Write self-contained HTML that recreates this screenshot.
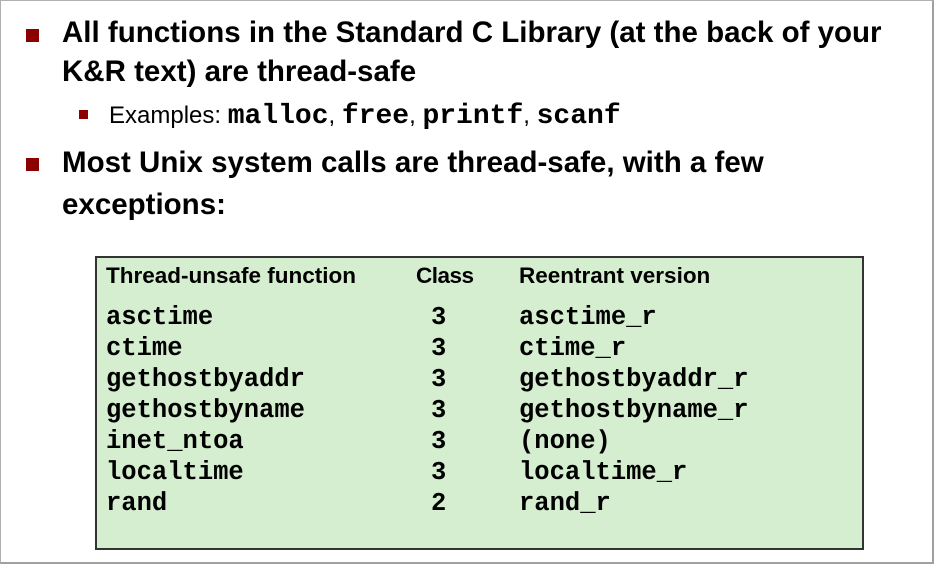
<!DOCTYPE html>
<html><head><meta charset="utf-8"><style>
body{margin:0;width:934px;height:564px;background:#fff;position:relative;overflow:hidden;font-family:"Liberation Sans",sans-serif;}
.frame{position:absolute;left:0;top:0;width:931px;height:561px;border:1px solid #b0b0b0;border-right:2px solid #a0a0a0;border-bottom:2px solid #a0a0a0;}
.t{position:absolute;white-space:nowrap;}
.b1{font-weight:bold;font-size:29.5px;color:#000;line-height:34px;}
.sq{position:absolute;background:#8b0000;}
.mono{font-family:"Liberation Mono",monospace;font-weight:bold;}
.box{position:absolute;left:95px;top:256px;width:765px;height:290px;background:#d5eed0;border:2px solid #333;}
.h{font-weight:bold;font-size:22.5px;line-height:26px;}
.r{font-family:"Liberation Mono",monospace;font-weight:bold;font-size:25.5px;}
</style></head><body>
<div class="frame"></div>
<div class="sq" style="left:26px;top:29px;width:13px;height:13px"></div>
<div class="t b1" style="left:62px;top:16px">All functions in the Standard C Library (at the back of your</div>
<div class="t b1" style="left:62px;top:55px">K&amp;R text) are thread-safe</div>
<div class="sq" style="left:79px;top:110px;width:9px;height:9px"></div>
<div class="t" style="left:109px;top:102px;font-size:24px;line-height:28px">Examples: <span class="mono" style="font-size:28px">malloc</span>, <span class="mono" style="font-size:28px">free</span>, <span class="mono" style="font-size:28px">printf</span>, <span class="mono" style="font-size:28px">scanf</span></div>
<div class="sq" style="left:26px;top:158px;width:13px;height:13px"></div>
<div class="t b1" style="left:62px;top:146px">Most Unix system calls are thread-safe, with a few</div>
<div class="t b1" style="left:62px;top:188px">exceptions:</div>
<div class="box"></div>
<div class="t h" style="left:106px;top:263px">Thread-unsafe function</div>
<div class="t h" style="left:416px;top:263px;letter-spacing:-0.5px">Class</div>
<div class="t h" style="left:519px;top:263px">Reentrant version</div>
<div class="t r" style="left:106px;top:302px;line-height:31px">asctime<br>ctime<br>gethostbyaddr<br>gethostbyname<br>inet_ntoa<br>localtime<br>rand</div>
<div class="t r" style="left:431px;top:302px;line-height:31px">3<br>3<br>3<br>3<br>3<br>3<br>2</div>
<div class="t r" style="left:519px;top:302px;line-height:31px">asctime_r<br>ctime_r<br>gethostbyaddr_r<br>gethostbyname_r<br>(none)<br>localtime_r<br>rand_r</div>
</body></html>
